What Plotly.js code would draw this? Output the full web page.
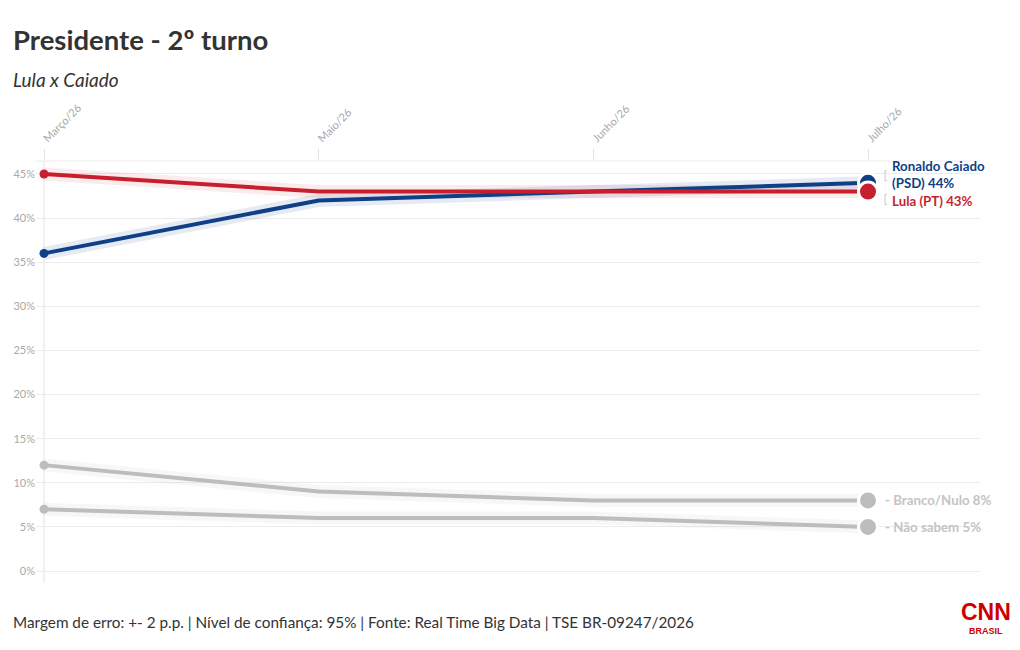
<!DOCTYPE html>
<html><head><meta charset="utf-8">
<script src="https://cdn.plot.ly/plotly-3.0.1.min.js"></script>
<style>html,body{margin:0;padding:0;background:#fff}#chart{width:1020px;height:650px}</style>
</head><body><div id="chart"></div>
<script>
const months = ["Março/26", "Maio/26", "Junho/26", "Julho/26"];
const lula = [45, 43, 43, 43];
const caiado = [36, 42, 43, 44];
const brancoNulo = [12, 9, 8, 8];
const naoSabem = [7, 6, 6, 5];
const yTicks = [0, 5, 10, 15, 20, 25, 30, 35, 40, 45];

const FONT = "Lato, 'Open Sans', sans-serif";
const xs = months.map((m, i) => i);
const last = xs.length - 1;
const PX = (868 - 44) / 3;

const series = [
  {name: "Não sabem", y: naoSabem, color: "#bdbdbd", band: "rgba(189,189,189,0.12)", label: "- Não sabem 5%", lc: "#c4c4c4", yshift: 0, xshift: 15},
  {name: "Branco/Nulo", y: brancoNulo, color: "#bdbdbd", band: "rgba(189,189,189,0.12)", label: "- Branco/Nulo 8%", lc: "#c4c4c4", yshift: 0, xshift: 15},
  {name: "Ronaldo Caiado (PSD)", y: caiado, color: "#0e3f87", band: "rgba(14,63,135,0.10)", label: "Ronaldo Caiado<br>(PSD) 44%", lc: "#0e3f87", yshift: 8, xshift: 22},
  {name: "Lula (PT)", y: lula, color: "#c81f2e", band: "rgba(200,31,46,0.09)", label: "Lula (PT) 43%", lc: "#c81f2e", yshift: -9, xshift: 22}
];

const traces = [];
series.forEach(s => {
  traces.push({x: xs, y: s.y, mode: "lines", line: {color: s.band, width: 13}, hoverinfo: "skip", showlegend: false});
});
series.forEach(s => {
  traces.push({
    x: xs, y: s.y, mode: "lines+markers", name: s.name, showlegend: false, cliponaxis: false,
    line: {color: s.color, width: 4},
    marker: {color: s.color, opacity: 1, size: xs.map(i => i === 0 ? 9 : (i === last ? 19 : 0)),
             line: {color: "#ffffff", width: xs.map(i => i === last ? 3 : 0)}}
  });
});

const annotations = series.map(s => ({
  x: last, y: s.y[last], xref: "x", yref: "y", text: "<b>" + s.label + "</b>",
  showarrow: false, xanchor: "left", yanchor: "middle", align: "left", xshift: s.xshift, yshift: s.yshift,
  font: {family: FONT, size: 13.3, color: s.lc}
}));
annotations.push(
  {xref: "paper", yref: "paper", x: -0.027, y: 1.287, text: "<b>Presidente - 2º turno</b>", showarrow: false, xanchor: "left", yanchor: "middle", font: {family: FONT, size: 27.5, color: "#333"}},
  {xref: "paper", yref: "paper", x: -0.027, y: 1.194, text: "<i>Lula x Caiado</i>", showarrow: false, xanchor: "left", yanchor: "middle", font: {family: FONT, size: 19, color: "#333"}},
  {xref: "paper", yref: "paper", x: -0.027, y: -0.092, text: "Margem de erro: +- 2 p.p. | Nível de confiança: 95% | Fonte: Real Time Big Data | TSE BR-09247/2026", showarrow: false, xanchor: "left", yanchor: "middle", font: {family: FONT, size: 15.3, color: "#333"}},
  {xref: "paper", yref: "paper", x: 1.006, y: -0.069, text: "<b>CNN</b>", showarrow: false, xanchor: "center", yanchor: "middle", font: {family: "'Liberation Sans', Arial, sans-serif", size: 23, color: "#cc0000"}},
  {xref: "paper", yref: "paper", x: 1.006, y: -0.114, text: "<b>BRASIL</b>", showarrow: false, xanchor: "center", yanchor: "middle", font: {family: "'Liberation Sans', Arial, sans-serif", size: 9, color: "#cc0000"}}
);

const bracket = (yv, dy0, dy1) => ({
  type: "path", xref: "x", yref: "y", xsizemode: "pixel", ysizemode: "pixel", xanchor: last, yanchor: yv,
  path: `M 19 ${dy0} L 17 ${dy0} L 17 ${dy1} L 19 ${dy1}`, line: {color: "#c8c8c8", width: 1}
});

const layout = {
  width: 1020, height: 650,
  margin: {l: 36, r: 40, t: 161, b: 67},
  paper_bgcolor: "#fff", plot_bgcolor: "#fff",
  font: {family: FONT},
  xaxis: {
    side: "top", range: [-(44 - 36) / PX, (980 - 44) / PX],
    tickvals: xs, ticktext: months, tickangle: -45,
    showgrid: false, zeroline: false, showline: false,
    ticks: "outside", ticklen: 11, tickcolor: "#e3e3e3",
    tickfont: {family: FONT, size: 11, color: "#a9a9a9"}
  },
  yaxis: {
    range: [-1.36, 46.47], tickvals: yTicks, ticktext: yTicks.map(v => v + "%"),
    showgrid: true, gridcolor: "#ececec", gridwidth: 1, zeroline: false,
    ticks: "", showline: false,
    tickfont: {family: FONT, size: 11, color: "#a9a9a9"}
  },
  annotations: annotations,
  shapes: [
    {type: "line", xref: "paper", yref: "paper", x0: 0, x1: 1, y0: 1, y1: 1, line: {color: "#ececec", width: 1}},
    {type: "line", xref: "x", yref: "paper", x0: 0, x1: 0, y0: 0, y1: 1, layer: "below", line: {color: "#e3e3e3", width: 1}},
    bracket(caiado[last], 12, 2),
    bracket(lula[last], -3, -13)
  ]
};

Plotly.newPlot("chart", traces, layout, {displayModeBar: false, staticPlot: true});
</script>
</body></html>
